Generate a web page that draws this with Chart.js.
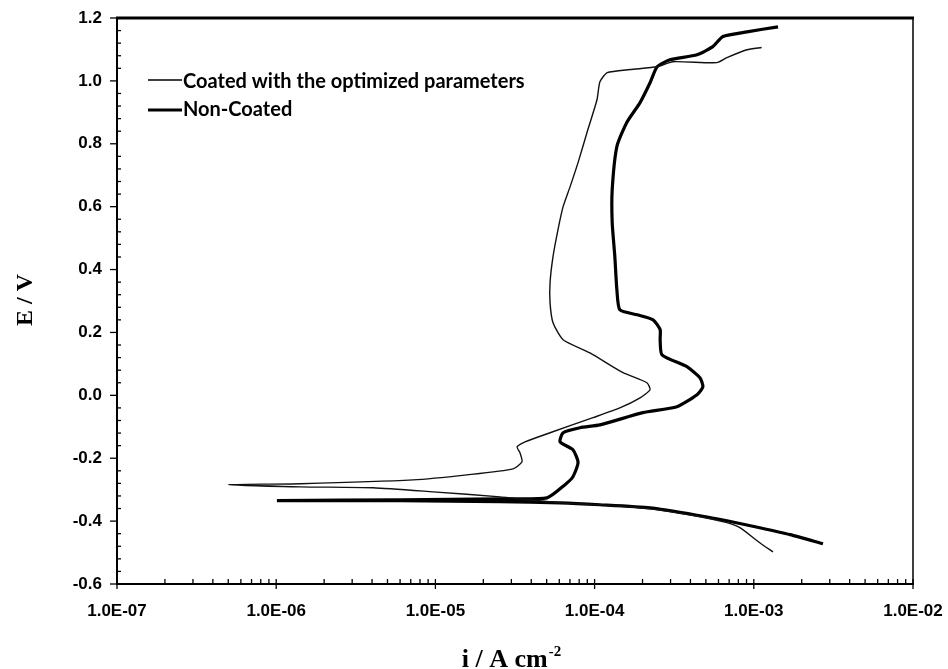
<!DOCTYPE html>
<html>
<head>
<meta charset="utf-8">
<script src="https://cdn.jsdelivr.net/npm/chart.js@4.4.0/dist/chart.umd.min.js"></script>
<style>
  html, body { margin: 0; padding: 0; background: #fff; }
  #graphContainer { width: 948px; height: 669px; position: relative; }
</style>
</head>
<body>
<div id="graphContainer"><canvas id="grafica"></canvas></div>
<script>
// Curva recubierta: densidad de corriente (A/cm2) y potencial (V)
const coatedI = [1.32e-3, 1.09e-3, 8.18e-4, 6.78e-4, 4.59e-4, 2.23e-4, 1.08e-4, 6.07e-5, 2.55e-5, 9.68e-6, 4.06e-6, 1.42e-6, 5.0e-7,
  1.42e-6, 7.24e-6, 1.58e-5, 3.08e-5, 3.50e-5, 3.40e-5, 3.26e-5, 3.66e-5, 5.25e-5, 9.77e-5, 1.44e-4, 1.93e-4, 2.23e-4,
  2.13e-4, 1.51e-4, 9.35e-5, 6.34e-5, 5.48e-5, 5.25e-5, 5.25e-5, 5.48e-5, 5.89e-5, 6.34e-5, 7.01e-5, 7.87e-5, 8.95e-5,
  1.035e-4, 1.08e-4, 1.20e-4, 1.67e-4, 2.47e-4, 3.10e-4, 5.86e-4, 6.78e-4, 9.06e-4, 1.12e-3];
const coatedE = [-0.498, -0.469, -0.421, -0.405, -0.386, -0.361, -0.348, -0.342, -0.323, -0.307, -0.294, -0.291, -0.284,
  -0.281, -0.269, -0.253, -0.234, -0.211, -0.183, -0.164, -0.148, -0.119, -0.071, -0.040, -0.008, 0.018,
  0.040, 0.072, 0.135, 0.177, 0.231, 0.294, 0.358, 0.441, 0.527, 0.600, 0.663, 0.740, 0.835,
  0.940, 0.997, 1.026, 1.036, 1.045, 1.061, 1.058, 1.074, 1.099, 1.106];

// Curva sin recubrir
const nonCoatedI = [2.72e-3, 1.69e-3, 1.09e-3, 6.78e-4, 4.59e-4, 2.23e-4, 1.08e-4, 6.07e-5, 2.55e-5, 6.0e-6, 1.01e-6,
  6.0e-6, 2.55e-5, 5.02e-5, 6.52e-5, 7.31e-5, 7.87e-5, 7.31e-5, 6.07e-5, 6.34e-5, 8.09e-5, 1.08e-4, 2.01e-4, 3.29e-4,
  4.40e-4, 4.79e-4, 4.59e-4, 3.80e-4, 2.65e-4, 2.58e-4, 2.58e-4, 2.33e-4, 1.85e-4, 1.44e-4, 1.38e-4, 1.34e-4, 1.29e-4,
  1.29e-4, 1.38e-4, 1.59e-4, 1.93e-4, 2.23e-4, 2.47e-4, 2.97e-4, 4.40e-4, 5.53e-4, 6.40e-4, 9.06e-4, 1.42e-3];
const nonCoatedE = [-0.472, -0.443, -0.421, -0.399, -0.383, -0.358, -0.348, -0.342, -0.338, -0.335, -0.335,
  -0.332, -0.329, -0.326, -0.284, -0.259, -0.214, -0.173, -0.148, -0.119, -0.103, -0.094, -0.055, -0.036,
  0.002, 0.027, 0.056, 0.091, 0.129, 0.177, 0.209, 0.240, 0.256, 0.272, 0.336, 0.441, 0.549,
  0.654, 0.791, 0.867, 0.931, 0.994, 1.045, 1.067, 1.083, 1.109, 1.141, 1.156, 1.172];

const seriesLabels = ["Coated with the optimized parameters", "Non-Coated"];
const xDecades = [1e-7, 1e-6, 1e-5, 1e-4, 1e-3, 1e-2];
const yTicks = [-0.6, -0.4, -0.2, 0.0, 0.2, 0.4, 0.6, 0.8, 1.0, 1.2];

function toPoints(iArr, eArr) {
    return iArr.map((v, k) => ({ x: v, y: eArr[k] }));
}

function formatE(v) {
    const e = Math.round(Math.log10(v));
    return "1.0E" + (e < 0 ? "-" : "+") + String(Math.abs(e)).padStart(2, "0");
}

function sinPadding(s) {
    s.paddingLeft = 0; s.paddingRight = 0; s.paddingTop = 0; s.paddingBottom = 0;
}

// Marco, marcas de los ejes, leyenda y titulos
const marcoPlugin = {
    id: "marco",
    afterDraw(chart) {
        const { ctx, chartArea: a, scales: { x, y } } = chart;
        ctx.save();
        ctx.strokeStyle = "#000";
        ctx.fillStyle = "#000";

        ctx.lineWidth = 3;
        ctx.beginPath(); ctx.moveTo(a.left - 1, a.top); ctx.lineTo(a.right + 1, a.top); ctx.stroke();
        ctx.lineWidth = 1.5;
        ctx.beginPath(); ctx.moveTo(a.right, a.top); ctx.lineTo(a.right, a.bottom); ctx.stroke();

        // eje y: mayores fuera, menores dentro cada 0.04
        ctx.lineWidth = 1.3;
        for (let k = 0; k <= 45; k++) {
            const py = y.getPixelForValue(-0.6 + k * 0.04);
            ctx.beginPath();
            if (k % 5 == 0) { ctx.moveTo(a.left - 7, py); ctx.lineTo(a.left, py); }
            else { ctx.moveTo(a.left, py); ctx.lineTo(a.left + 4, py); }
            ctx.stroke();
        }

        // eje x logaritmico
        for (const d of xDecades) {
            const px = x.getPixelForValue(d);
            ctx.beginPath(); ctx.moveTo(px, a.bottom - 5); ctx.lineTo(px, a.bottom + 5); ctx.stroke();
            if (d >= 1e-2) continue;
            for (let m = 2; m <= 9; m++) {
                const pm = x.getPixelForValue(m * d);
                ctx.beginPath(); ctx.moveTo(pm, a.bottom - 5); ctx.lineTo(pm, a.bottom); ctx.stroke();
            }
        }

        // leyenda
        ctx.font = "bold 20px Lato";
        ctx.textBaseline = "middle";
        ctx.textAlign = "left";
        ctx.lineWidth = 1.5;
        ctx.beginPath(); ctx.moveTo(148, 80); ctx.lineTo(182, 80); ctx.stroke();
        ctx.fillText(seriesLabels[0], 183, 82);
        ctx.lineWidth = 3.2;
        ctx.beginPath(); ctx.moveTo(148, 110); ctx.lineTo(182, 110); ctx.stroke();
        ctx.fillText(seriesLabels[1], 183, 110);

        // titulo x con superindice
        ctx.textBaseline = "alphabetic";
        ctx.font = "bold 26px 'Liberation Serif'";
        const t1 = "i / A cm";
        const w1 = ctx.measureText(t1).width;
        ctx.font = "bold 15px 'Liberation Serif'";
        const w2 = ctx.measureText("-2").width;
        const x0 = 511 - (w1 + w2) / 2;
        ctx.font = "bold 26px 'Liberation Serif'";
        ctx.fillText(t1, x0, 667);
        ctx.font = "bold 15px 'Liberation Serif'";
        ctx.fillText("-2", x0 + w1 + 1, 656);

        // titulo y
        ctx.translate(32, 300);
        ctx.rotate(-Math.PI / 2);
        ctx.textAlign = "center";
        ctx.font = "bold 24px 'Liberation Serif'";
        ctx.fillText("E / V", 0, 0);
        ctx.restore();
    }
};

const tickFont = { family: "'Liberation Sans', Arial", weight: "bold", size: 17 };

const config = {
    type: "scatter",
    data: {
        datasets: [
            {
                label: seriesLabels[0],
                data: toPoints(coatedI, coatedE),
                showLine: true,
                borderColor: "#111",
                borderWidth: 1.4,
                pointRadius: 0,
                tension: 0.2,
                order: 0
            },
            {
                label: seriesLabels[1],
                data: toPoints(nonCoatedI, nonCoatedE),
                showLine: true,
                borderColor: "#000",
                borderWidth: 3.2,
                pointRadius: 0,
                tension: 0.2,
                order: 1
            }
        ]
    },
    options: {
        responsive: true,
        maintainAspectRatio: false,
        animation: false,
        layout: { padding: { top: 18, right: 35, left: 0, bottom: 0 } },
        plugins: { legend: { display: false }, tooltip: { enabled: false } },
        scales: {
            x: {
                type: "logarithmic",
                min: 1e-7,
                max: 1e-2,
                grid: { display: false, drawTicks: false },
                border: { color: "#000", width: 2 },
                afterBuildTicks: s => { s.ticks = xDecades.map(v => ({ value: v })); },
                afterFit: s => { s.height = 85; sinPadding(s); },
                ticks: {
                    autoSkip: false, maxRotation: 0, padding: 17, color: "#000",
                    font: tickFont, callback: v => formatE(v)
                }
            },
            y: {
                min: -0.6,
                max: 1.2,
                grid: { display: false, drawTicks: false },
                border: { color: "#000", width: 2 },
                afterBuildTicks: s => { s.ticks = yTicks.map(v => ({ value: v })); },
                afterFit: s => { s.width = 117; sinPadding(s); },
                ticks: {
                    padding: 15, color: "#000",
                    font: tickFont, callback: v => Number(v).toFixed(1)
                }
            }
        }
    },
    plugins: [marcoPlugin]
};

new Chart(document.getElementById("grafica"), config);
</script>
</body>
</html>
